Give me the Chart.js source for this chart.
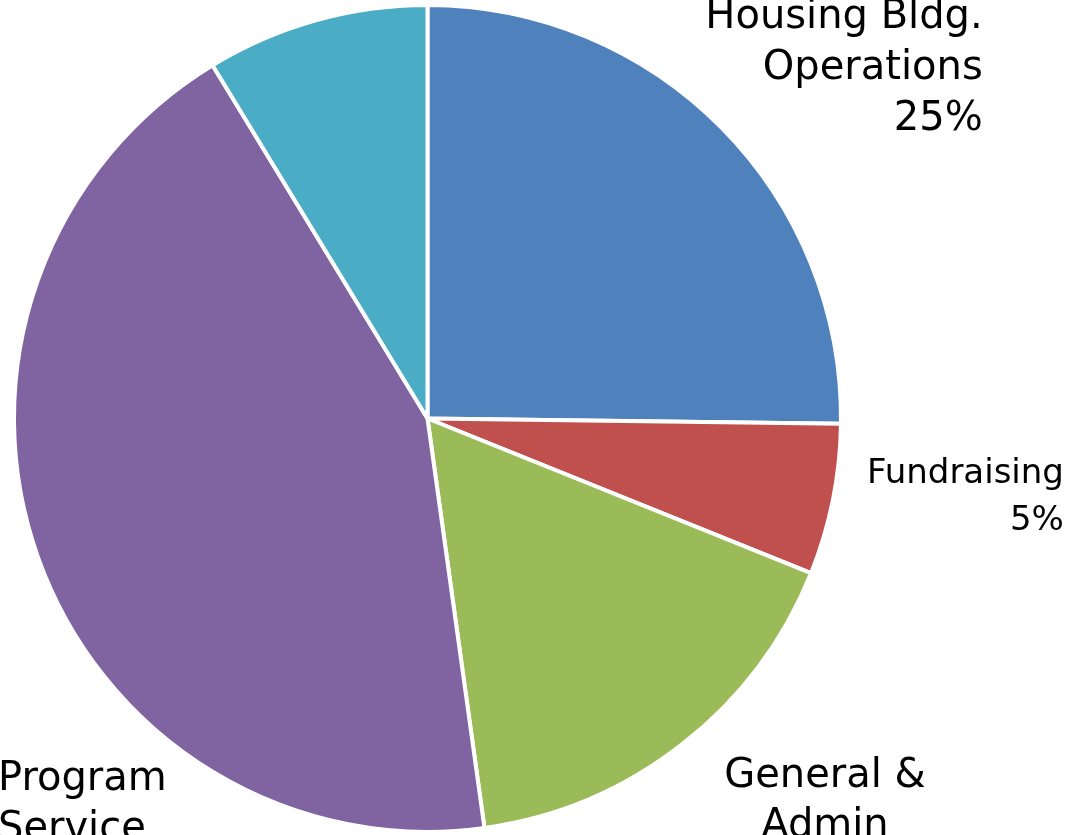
<!DOCTYPE html>
<html>
<head>
<meta charset="utf-8">
<script src="https://cdn.jsdelivr.net/npm/chart.js@4/dist/chart.umd.min.js"></script>
<style>
  html, body { margin: 0; padding: 0; background: #fff; overflow: hidden; }
  #out { display: block; }
</style>
</head>
<body>
<canvas id="out" width="1071" height="835"></canvas>
<script>
// slices, clockwise from 12 o'clock (share of total, %)
const categories = ["Housing Bldg. Operations", "Fundraising", "General & Admin", "Program Service", "Other"];
const shares = [25.2, 5.9, 16.7, 43.5, 8.7];
// data label text, line by line
const labelLines = [
  ["Housing Bldg.", "Operations", "25%"],
  ["Fundraising", "5%"],
  ["General &", "Admin"],
  ["Program", "Service"],
  []
];
const sliceColors = ["#4F81BD", "#C0504D", "#9BBB59", "#8064A2", "#4BACC6"];

// where each label sits relative to the slice's outer-edge midpoint
const labelPlace = [
  { dx: 261, dy: -100, align: "right", size: 40, lh: 51 },
  { dx: 231, dy: -17, align: "right", size: 34, lh: 47 },
  { dx: 143, dy: 43, align: "center", size: 40, lh: 50 },
  { dx: -40, dy: 233, align: "left", size: 40, lh: 50 },
  { dx: 0, dy: 0, align: "left", size: 40, lh: 50 }
];

const labelPlugin = {
  id: "sliceLabels",
  afterDatasetsDraw(chart) {
    const ctx = chart.ctx;
    const meta = chart.getDatasetMeta(0);
    meta.data.forEach((arc, i) => {
      const lines = labelLines[i];
      if (!lines.length) return;
      const p = arc.getProps(["x", "y", "startAngle", "endAngle", "outerRadius"], true);
      const mid = (p.startAngle + p.endAngle) / 2;
      const ex = p.x + Math.cos(mid) * p.outerRadius;
      const ey = p.y + Math.sin(mid) * p.outerRadius;
      const lp = labelPlace[i];
      ctx.save();
      ctx.fillStyle = "#000";
      ctx.font = lp.size + "px 'DejaVu Sans'";
      ctx.textAlign = lp.align;
      ctx.textBaseline = "alphabetic";
      lines.forEach((t, k) => {
        ctx.fillText(t, ex + lp.dx, ey + lp.dy + k * lp.lh);
      });
      ctx.restore();
    });
  }
};

const canvasCtx = document.getElementById("out").getContext("2d");
const chart = new Chart(canvasCtx, {
  type: "pie",
  data: {
    labels: categories,
    datasets: [{
      data: shares,
      backgroundColor: sliceColors,
      borderColor: "#ffffff",
      borderWidth: 4
    }]
  },
  options: {
    responsive: false,
    animation: false,
    layout: { padding: { left: 12, top: 3, right: 228, bottom: 1 } },
    plugins: {
      legend: { display: false },
      tooltip: { enabled: false }
    }
  },
  plugins: [labelPlugin]
});
</script>
</body>
</html>
